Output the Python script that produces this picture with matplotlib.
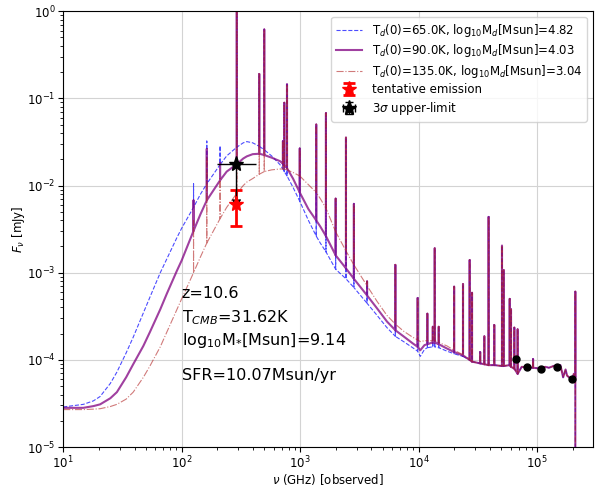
import numpy as np
import matplotlib
matplotlib.use('Agg')
import matplotlib.pyplot as plt

plt.rcParams['font.family'] = 'DejaVu Sans'

# observed frequency grid [GHz]
freq = [10, 14.8, 18, 20.5, 25, 28.4, 34, 39, 47.5, 54, 66, 75, 91, 100, 126, 144, 163,
        211, 240, 292, 331, 355, 398, 452, 498, 575, 676, 716, 735, 775, 871, 993, 1175,
        1368, 1480, 1652, 1995, 2438, 2844, 3673, 4467, 5408, 6368, 7464, 8913, 9817,
        10330, 11220, 11860, 13180, 13680, 14790, 17380, 19950, 23710, 26980, 28250,
        33110, 35890, 38990, 43550, 50580, 52240, 58750, 60260, 64270, 68550, 74130,
        83180, 92500, 106700, 117500, 125900, 138000, 157400, 166000, 174000, 179100,
        186200, 197700, 204200, 210400, 210500]

# log10 continuum flux [mJy] for the three dust temperatures
logf_65 = [-4.54, -4.51, -4.47, -4.42, -4.27, -4.14, -3.92, -3.74, -3.46, -3.28, -3.00,
           -2.84, -2.60, -2.49, -2.25, -2.10, -1.98, -1.76, -1.66, -1.56, -1.51, -1.496,
           -1.51, -1.55, -1.59, -1.66, -1.76, -1.81, -1.84, -1.89, -2.02, -2.18, -2.40,
           -2.58, -2.66, -2.76, -2.96, -3.07, -3.17, -3.35, -3.49, -3.63, -3.73, -3.79,
           -3.86, -3.90, -3.96, -3.88, -3.86, -3.85, -3.85, -3.86, -3.90, -3.93, -3.96,
           -4.00, -4.02, -4.04, -4.05, -4.06, -4.06, -4.07, -4.07, -4.06, -4.08, -4.10,
           -4.16, -4.08, -4.085, -4.09, -4.10, -4.08, -4.09, -4.07, -4.06, -4.20, -4.11,
           -4.18, -4.20, -4.22, -4.16, -4.20, -7.0]
logf_90 = [-4.55, -4.55, -4.53, -4.51, -4.44, -4.37, -4.20, -4.05, -3.84, -3.68, -3.42,
           -3.24, -2.98, -2.86, -2.52, -2.33, -2.17, -1.94, -1.84, -1.755, -1.69, -1.665,
           -1.64, -1.635, -1.65, -1.68, -1.72, -1.75, -1.77, -1.80, -1.92, -2.08, -2.27,
           -2.40, -2.47, -2.58, -2.80, -2.95, -3.07, -3.26, -3.41, -3.56, -3.66, -3.73,
           -3.81, -3.85, -3.89, -3.83, -3.82, -3.80, -3.80, -3.82, -3.87, -3.91, -3.95,
           -4.00, -4.02, -4.04, -4.05, -4.06, -4.06, -4.07, -4.07, -4.06, -4.08, -4.10,
           -4.16, -4.08, -4.085, -4.09, -4.10, -4.08, -4.09, -4.07, -4.06, -4.20, -4.11,
           -4.18, -4.20, -4.22, -4.16, -4.20, -7.0]
logf_135 = [-4.57, -4.57, -4.565, -4.56, -4.535, -4.51, -4.45, -4.37, -4.20, -4.07, -3.85,
            -3.68, -3.42, -3.30, -3.00, -2.82, -2.66, -2.38, -2.25, -2.09, -2.00, -1.96,
            -1.92, -1.87, -1.84, -1.82, -1.81, -1.81, -1.815, -1.82, -1.85, -1.89, -1.99,
            -2.08, -2.15, -2.26, -2.53, -2.75, -2.91, -3.15, -3.33, -3.49, -3.59, -3.67,
            -3.74, -3.77, -3.79, -3.78, -3.78, -3.78, -3.78, -3.80, -3.84, -3.89, -3.94,
            -4.00, -4.02, -4.04, -4.05, -4.06, -4.06, -4.07, -4.07, -4.06, -4.08, -4.10,
            -4.16, -4.08, -4.085, -4.09, -4.10, -4.08, -4.09, -4.07, -4.06, -4.20, -4.11,
            -4.18, -4.20, -4.22, -4.16, -4.20, -7.0]

# emission lines: frequency [GHz] and log10 peak flux [mJy]
line_freq = [126, 163, 211, 292, 452, 498, 716, 735, 775, 993, 1368, 1652, 1995, 2438,
             2844, 3673, 6368, 9817, 11860, 13180, 13680, 14790, 19950, 23710, 26980,
             28250, 33110, 35890, 38990, 43550, 50580, 52240, 58750, 60260, 64270,
             68550, 92500, 210400]
line_top = [-2.17, -1.58, -1.74, 0.5, -0.72, -0.21, -1.49, -1.05, -0.84, -1.575, -1.30,
            -1.17, -2.15, -1.45, -2.21, -3.10, -2.91, -3.29, -3.47, -3.62, -2.72, -3.62,
            -3.16, -3.13, -2.855, -3.23, -3.91, -3.73, -2.36, -3.60, -2.69, -2.97, -3.30,
            -3.42, -3.63, -3.65, -3.99, -3.215]
# the three lowest lines sit on different continua
line_top_65_low = [-1.98, -1.49, -1.545]
line_top_135_low = [-2.40, -1.67, -1.92]

models = [('65.0', '4.82', logf_65, line_top_65_low),
          ('90.0', '4.03', logf_90, line_top[:3]),
          ('135.0', '3.04', logf_135, line_top_135_low)]

# ALMA points
tent_freq, tent_flux, tent_err = 289, 6.2e-3, 2.8e-3
ul_freq, ul_flux, ul_yerr = 289, 1.76e-2, 1.05e-2
ul_xerr = [[89], [137]]
# photometry
phot_freq = [67000, 83000, 107000, 148000, 198000]
phot_flux = [1.03e-4, 8.3e-5, 7.8e-5, 8.3e-5, 6.1e-5]


def build(fr, logf, tops):
    xs, ys = [], []
    for f, v in zip(fr, logf):
        xs.append(f)
        ys.append(v)
        if f in line_freq:
            xs += [f, f]
            ys += [tops[line_freq.index(f)], v]
    return np.array(xs), 10 ** np.array(ys)


fig = plt.figure(figsize=(5.96, 4.87), dpi=100)
ax = fig.add_axes([0.106, 0.082, 0.8885, 0.895])

styles = [dict(color='blue', ls='--', lw=0.8, alpha=0.7),
          dict(color='purple', ls='-', lw=1.5, alpha=0.75),
          dict(color='firebrick', ls='-.', lw=0.8, alpha=0.6)]

for (td, md, logf, low), st in zip(models, styles):
    tops = list(low) + line_top[3:]
    x, y = build(freq, logf, tops)
    ax.plot(x, y, label=r'T$_d$(0)=%sK, log$_{10}$M$_d$[Msun]=%s' % (td, md), **st)

ax.errorbar(tent_freq, tent_flux, yerr=tent_err, fmt='*', color='red', ms=11,
            elinewidth=2, capsize=4, capthick=2, label='tentative emission')
ax.errorbar(ul_freq, ul_flux, xerr=ul_xerr, yerr=ul_yerr, uplims=True, fmt='*',
            color='black', ms=11, elinewidth=1, label=r'3$\sigma$ upper-limit')
ax.plot(phot_freq, phot_flux, 'o', color='black', ms=5)

ax.text(100, 5.1e-4, 'z=10.6', fontsize=11.5)
ax.text(100, 2.7e-4, r'T$_{CMB}$=31.62K', fontsize=11.5)
ax.text(100, 1.5e-4, r'log$_{10}$M$_{*}$[Msun]=9.14', fontsize=11.5)
ax.text(100, 5.9e-5, 'SFR=10.07Msun/yr', fontsize=11.5)

ax.set_xscale('log')
ax.set_yscale('log')
ax.set_xlim(10, 2.95e5)
ax.set_ylim(1e-5, 1)
ax.grid(True, which='major', color='lightgray', lw=0.8)
ax.set_axisbelow(True)
ax.tick_params(labelsize=8.5, pad=2)
ax.set_xlabel(r'$\nu$ (GHz) [observed]', fontsize=8.5, labelpad=0.5)
ax.set_ylabel(r'$F_\nu$ [mJy]', fontsize=8.5, labelpad=0)
ax.legend(loc='upper right', fontsize=8.5, labelspacing=0.3, handlelength=2.2)

fig.savefig('out.png', dpi=100)
